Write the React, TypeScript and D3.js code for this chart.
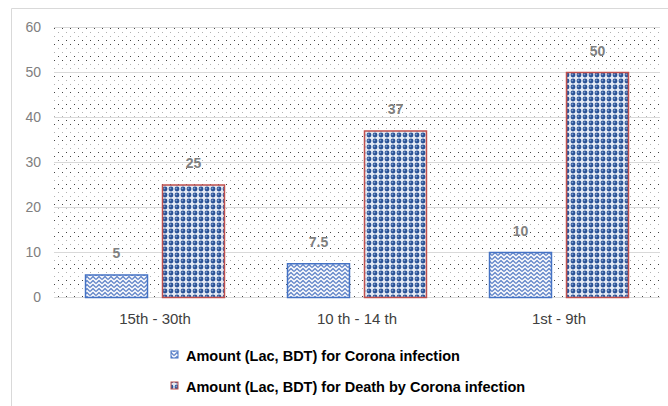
import React from "react";
import * as d3 from "d3";

const categories = ["15th - 30th", "10 th - 14 th", "1st - 9th"];
const seriesNames = [
  "Amount (Lac, BDT) for Corona infection",
  "Amount (Lac, BDT) for Death by Corona infection",
];
const infectionValues = [5, 7.5, 10];
const deathValues = [25, 37, 50];
const yTicks = [0, 10, 20, 30, 40, 50, 60];

const W = 668;
const H = 406;

export default function App() {
  const y = d3.scaleLinear().domain([0, 60]).range([297.5, 27.5]);
  const x = d3.scaleBand<string>().domain(categories).range([54, 660]).paddingInner(0).paddingOuter(0);
  const xs = d3
    .scaleBand<string>()
    .domain(["s0", "s1"])
    .range([0, x.bandwidth()])
    .paddingInner(0.182)
    .paddingOuter(0.403);
  const series = [
    { key: "s0", values: infectionValues, fill: "url(#zig)", stroke: "#4472C4" },
    { key: "s1", values: deathValues, fill: "url(#sph)", stroke: "#C0504D" },
  ];
  const font = "'Liberation Sans', Arial, sans-serif";
  const [x0, x1] = x.range();
  return (
    <svg width={W} height={H} style={{ position: "absolute", left: 0, top: 0, background: "#fff" }} fontFamily={font}>
      <defs>
        <pattern id="dots" width={8} height={16} patternUnits="userSpaceOnUse" x={x0} y={28}>
          <rect width={8} height={16} fill="#fff" />
          <rect x={0} y={0} width={1} height={1} fill="#444" />
          <rect x={4} y={4} width={1} height={1} fill="#b0b0b0" />
          <rect x={0} y={8} width={1} height={1} fill="#b0b0b0" />
          <rect x={4} y={12} width={1} height={1} fill="#444" />
        </pattern>
        <pattern id="zig" width={6} height={4} patternUnits="userSpaceOnUse">
          <rect width={6} height={4} fill="#f4f6fb" />
          <path d="M0,3.5 L3,0.5 L6,3.5" fill="none" stroke="#5a7fc6" strokeWidth={1.2} />
        </pattern>
        <pattern id="sph" width={6} height={6} patternUnits="userSpaceOnUse">
          <rect width={6} height={6} fill="#e4eaf4" />
          <circle cx={3} cy={3} r={2.4} fill="#2a5296" />
          <circle cx={2.4} cy={2.4} r={0.9} fill="#7f9dcc" />
        </pattern>
      </defs>
      {/* outer frame */}
      <path d={`M11.5,${H} L11.5,8.5 L${W},8.5`} fill="none" stroke="#d9d9d9" strokeWidth={1} />
      {/* plot background */}
      <rect x={x0} y={y(60)} width={x1 - x0} height={y(0) - y(60)} fill="url(#dots)" />
      {yTicks.map((t) => (
        <g key={t}>
          <line x1={x0} x2={x1} y1={y(t)} y2={y(t)} stroke="#d9d9d9" strokeWidth={1} />
          <text x={41} y={y(t)} dy="0.35em" textAnchor="end" fontSize={14} fill="#808080">
            {t}
          </text>
        </g>
      ))}
      {series.map((s) =>
        categories.map((c, i) => {
          const bx = (x(c) as number) + (xs(s.key) as number);
          const by = y(s.values[i]);
          return (
            <g key={s.key + c}>
              <rect
                x={bx + 0.5}
                y={by}
                width={xs.bandwidth() - 1}
                height={y(0) - by}
                fill={s.fill}
                stroke={s.stroke}
                strokeWidth={1.5}
              />
              <text
                x={bx + xs.bandwidth() / 2}
                y={by - 17}
                textAnchor="middle"
                fontSize={14}
                fontWeight="bold"
                fill="#808080"
              >
                {s.values[i]}
              </text>
            </g>
          );
        })
      )}
      {categories.map((c) => (
        <text key={c} x={(x(c) as number) + x.bandwidth() / 2} y={324} textAnchor="middle" fontSize={15} fill="#404040">
          {c}
        </text>
      ))}
      {seriesNames.map((n, i) => (
        <g key={n}>
          <rect x={171} y={351 + i * 31} width={7} height={7} fill={i === 0 ? "url(#zig)" : "url(#sph)"} stroke={i === 0 ? "#4472C4" : "#C0504D"} strokeWidth={1} />
          <text x={186} y={355.5 + i * 31} dy="0.35em" fontSize={14.5} fontWeight="bold" fill="#000">
            {n}
          </text>
        </g>
      ))}
    </svg>
  );
}
